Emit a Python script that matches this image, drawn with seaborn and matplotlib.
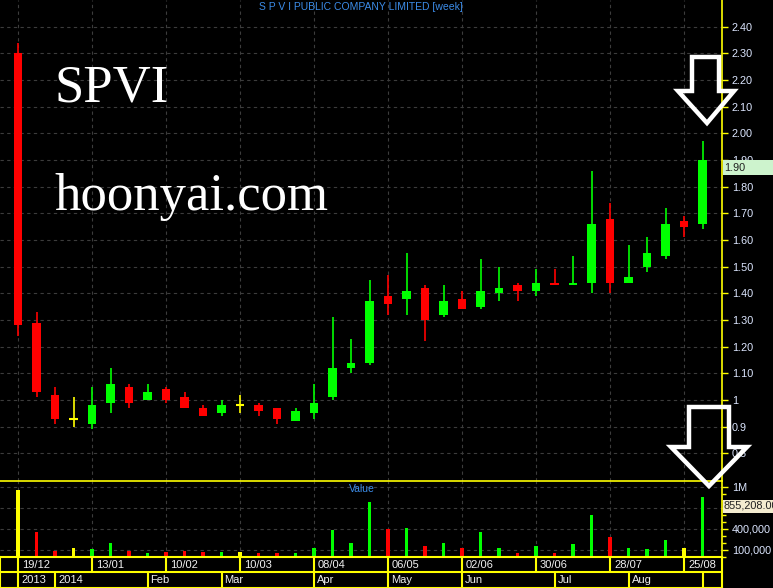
import numpy as np
import pandas as pd
import seaborn as sns
import matplotlib.pyplot as plt
from matplotlib.patches import Polygon, Rectangle
from matplotlib.ticker import MultipleLocator

# weekly bars, week 0 = 19/12/2013
opens = [2.30, 1.29, 1.02, 0.93, 0.91, 0.99, 1.05, 1.00, 1.04, 1.01, 0.97, 0.95, 0.98,
         0.98, 0.97, 0.92, 0.95, 1.01, 1.12, 1.14, 1.39, 1.38, 1.42, 1.32, 1.38, 1.35,
         1.40, 1.43, 1.41, 1.44, 1.43, 1.44, 1.68, 1.44, 1.50, 1.54, 1.67, 1.66]
highs = [2.34, 1.33, 1.05, 1.01, 1.05, 1.12, 1.06, 1.06, 1.05, 1.03, 0.98, 1.00, 1.02,
         0.99, 0.97, 0.97, 1.06, 1.31, 1.23, 1.45, 1.47, 1.55, 1.43, 1.43, 1.41, 1.53,
         1.50, 1.44, 1.49, 1.49, 1.54, 1.86, 1.74, 1.58, 1.61, 1.72, 1.69, 1.97]
lows = [1.24, 1.01, 0.91, 0.90, 0.89, 0.95, 0.97, 1.00, 0.99, 0.97, 0.94, 0.94, 0.95,
        0.94, 0.91, 0.92, 0.93, 1.00, 1.10, 1.13, 1.32, 1.32, 1.22, 1.31, 1.34, 1.34,
        1.37, 1.37, 1.39, 1.43, 1.43, 1.40, 1.40, 1.44, 1.48, 1.53, 1.61, 1.64]
closes = [1.28, 1.03, 0.93, 0.93, 0.98, 1.06, 0.99, 1.03, 1.00, 0.97, 0.94, 0.98, 0.98,
          0.96, 0.93, 0.96, 0.99, 1.12, 1.14, 1.37, 1.36, 1.41, 1.30, 1.37, 1.34, 1.41,
          1.42, 1.41, 1.44, 1.43, 1.44, 1.66, 1.44, 1.46, 1.55, 1.66, 1.65, 1.90]
values = [958000, 357000, 90000, 130000, 113000, 200000, 90000, 60000, 75000, 90000,
          75000, 75000, 75000, 60000, 60000, 60000, 130000, 385000, 200000, 780000,
          400000, 410000, 155000, 200000, 130000, 357000, 130000, 60000, 160000, 60000,
          190000, 600000, 280000, 130000, 117000, 245000, 130000, 855208]
value_dir = ['flat', 'down', 'down', 'flat', 'up', 'up', 'down', 'up', 'down', 'down',
             'down', 'up', 'flat', 'down', 'down', 'up', 'up', 'up', 'up', 'up',
             'down', 'up', 'down', 'up', 'down', 'up', 'up', 'down', 'up', 'down',
             'up', 'up', 'down', 'up', 'up', 'up', 'flat', 'up']

price_ticks = [0.8, 0.9, 1.0, 1.1, 1.2, 1.3, 1.4, 1.5, 1.6, 1.7, 1.8, 1.9, 2.0, 2.1, 2.2, 2.3, 2.4]
price_labels = ['0.8', '0.9', '1', '1.10', '1.20', '1.30', '1.40', '1.50', '1.60', '1.70',
                '1.80', '1.90', '2.00', '2.10', '2.20', '2.30', '2.40']
value_ticks = [100000, 400000, 700000, 1000000]
value_labels = ['100,000', '400,000', '', '1M']  # 700,000 sits under the last-value box
date_idx = [0, 4, 8, 12, 16, 20, 24, 28, 32, 36]
date_labels = ['19/12', '13/01', '10/02', '10/03', '08/04', '06/05', '02/06', '30/06', '28/07', '25/08']
month_idx = [0, 2, 7, 11, 16, 20, 24, 29, 33, 37]
month_labels = ['2013', '2014', 'Feb', 'Mar', 'Apr', 'May', 'Jun', 'Jul', 'Aug', '']
last_price = '1.90'
last_value = '855,208.00'

W, H = 773, 588
STEP = 18.5  # pixels per week
X0, X1 = -18 / STEP, (722 - 18) / STEP
YEL = '#ffff00'
GRID = '#3c3c3c'
TXT = '#dce6ff'
FS = 7.8

sns.set_theme(style='dark', rc={'axes.facecolor': 'black', 'figure.facecolor': 'black'})
plt.rcParams['font.family'] = ['Liberation Sans', 'DejaVu Sans']

df = pd.DataFrame({'week': range(len(opens)), 'open': opens, 'high': highs,
                   'low': lows, 'close': closes, 'value': values, 'vdir': value_dir})
pal = {'up': '#00ff00', 'down': '#ff0000', 'flat': YEL}
df['dir'] = np.where(df.close > df.open, 'up', np.where(df.close < df.open, 'down', 'flat'))
df['col'] = df['dir'].map(pal)


def fx(x):
    return x / W


def fy(y):
    return 1 - y / H


fig = plt.figure(figsize=(W / 100, H / 100), dpi=100, facecolor='black')
ax_p = fig.add_axes([0, 107 / H, 722 / W, 481 / H])
ax_v = fig.add_axes([0, 31 / H, 722 / W, 76 / H])
ax_d = fig.add_axes([0, 0, 722 / W, 31 / H])


def style_axis(ax):
    ax.set_facecolor('black')
    for s in ['left', 'top', 'bottom']:
        ax.spines[s].set_visible(False)
    ax.spines['right'].set_visible(True)
    ax.spines['right'].set_color(YEL)
    ax.spines['right'].set_linewidth(1.2)
    ax.yaxis.tick_right()
    ax.tick_params(axis='y', which='both', colors=YEL, labelcolor=TXT, labelsize=FS,
                   length=4, width=1, pad=3, right=True, left=False)
    ax.tick_params(axis='x', length=0, labelbottom=False, bottom=False)


# price panel
style_axis(ax_p)
ok = df[df.dir != 'flat']
doji = df[df.dir == 'flat']
ax_p.vlines(df.week, df.low, df.high, colors=df.col, lw=1.2, zorder=3)
ax_p.bar(ok.week, (ok.close - ok.open).abs(), bottom=ok[['open', 'close']].min(axis=1),
         width=0.48, color=ok.col, linewidth=0, zorder=4)
ax_p.hlines(doji.close, doji.week - 0.22, doji.week + 0.22, colors=YEL, lw=1.5, zorder=4)
ax_p.set_xlim(X0, X1)
ax_p.set_ylim(0.696, 2.5)
ax_p.set_yticks(price_ticks, price_labels)
ax_p.set_xticks(date_idx)
ax_p.grid(True, color=GRID, linestyle=(0, (3, 3)), linewidth=0.8)

# value panel
sns.barplot(data=df, x='week', y='value', hue='vdir', palette=pal, width=0.18,
            saturation=1, linewidth=0, legend=False, dodge=False, ax=ax_v)
style_axis(ax_v)
ax_v.spines['top'].set_visible(True)
ax_v.spines['top'].set_color(YEL)
ax_v.spines['top'].set_linewidth(1.2)
ax_v.set_xlim(X0, X1)
ax_v.set_ylim(0, 1.08e6)
ax_v.set_xlabel('')
ax_v.set_ylabel('')
ax_v.set_yticks(value_ticks, value_labels)
ax_v.yaxis.set_minor_locator(MultipleLocator(100000))
ax_v.tick_params(axis='y', which='minor', length=3)
ax_v.set_xticks(date_idx)
ax_v.tick_params(axis='x', length=0, labelbottom=False)
ax_v.grid(True, which='major', color=GRID, linestyle=(0, (3, 3)), linewidth=0.8)
ax_v.text(362 / 722, 0.9, 'Value', transform=ax_v.transAxes, ha='center', va='center',
          color='#3c8ce8', fontsize=7.5)

# date rows
ax_d.set_facecolor('black')
ax_d.set_xlim(X0, X1)
ax_d.set_ylim(0, 31)
for s in ax_d.spines.values():
    s.set_visible(True)
    s.set_color(YEL)
    s.set_linewidth(1.5)
ax_d.set_xticks([])
ax_d.set_yticks([])
ax_d.hlines(16, X0, X1, colors=YEL, lw=1.5)
ax_d.vlines(date_idx, 16, 31, colors=YEL, lw=1.5)
ax_d.vlines(month_idx, 0, 16, colors=YEL, lw=1.5)
for i, lab in zip(date_idx, date_labels):
    ax_d.text(i + 4 / STEP, 23.5, lab, color='#f0f0f0', fontsize=8, va='center', ha='left')
for i, lab in zip(month_idx, month_labels):
    ax_d.text(i + 3 / STEP, 8, lab, color='#f0f0f0', fontsize=8, va='center', ha='left')

# titles and watermark
fig.text(fx(361), fy(7), 'S P V I PUBLIC COMPANY LIMITED [week]', color='#3c8ce8',
         fontsize=7.5, ha='center', va='center')
fig.text(fx(55), fy(102), 'SPVI', color='white', fontsize=38, family='Liberation Serif',
         va='baseline', ha='left')
fig.text(fx(54), fy(210), 'hoonyai.com', color='white', fontsize=38, family='Liberation Serif',
         va='baseline', ha='left')

# last value boxes
fig.add_artist(Rectangle((fx(723), fy(175)), 50 / W, 15 / H, transform=fig.transFigure,
                         facecolor='#cdf3cd', edgecolor='none'))
fig.text(fx(724), fy(167.5), last_price, color='#202020', fontsize=FS, va='center', ha='left')
fig.add_artist(Rectangle((fx(723), fy(512.5)), 50 / W, 13 / H, transform=fig.transFigure,
                         facecolor='#f3ebcf', edgecolor='none'))
fig.text(fx(723.5), fy(506), last_value, color='#202020', fontsize=FS, va='center', ha='left')

# arrows
arrows = [
    [(692, 57), (719, 57), (719, 91), (734, 91), (707, 123), (678, 91), (692, 91)],
    [(689, 407), (729, 407), (729, 447), (747, 447), (709, 486), (671, 447), (689, 447)],
]
for pts in arrows:
    fig.add_artist(Polygon([(fx(x), fy(y)) for x, y in pts], closed=True,
                           transform=fig.transFigure, facecolor='none', edgecolor='white',
                           linewidth=3.2, joinstyle='miter'))

fig.savefig('out.png', dpi=100, facecolor='black')
